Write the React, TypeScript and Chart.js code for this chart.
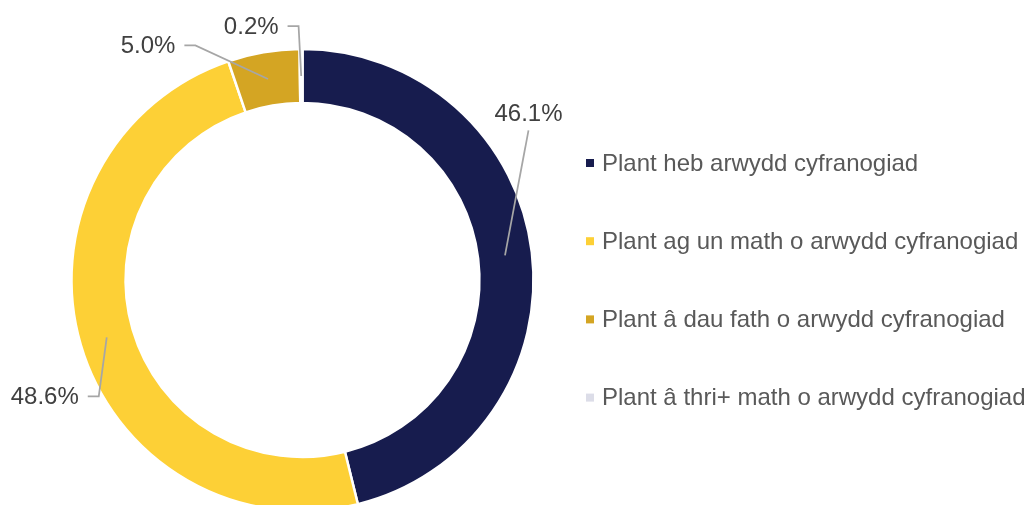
import React, { useEffect, useRef } from "react";
import { Chart, registerables } from "chart.js";

Chart.register(...registerables);

const categories = [
  "Plant heb arwydd cyfranogiad",
  "Plant ag un math o arwydd cyfranogiad",
  "Plant â dau fath o arwydd cyfranogiad",
  "Plant â thri+ math o arwydd cyfranogiad",
];
const values = [46.1, 48.6, 5.0, 0.2];
const valueLabels = ["46.1%", "48.6%", "5.0%", "0.2%"];
const colors = ["#171c4e", "#fdd036", "#d4a523", "#dcdde8"];

// label placement relative to the slice's mid-ring anchor: [dx, dy, leader style]
const labelPlacement: [number, number, string][] = [
  [23.5, -142, "below"],
  [-62, 59, "left"],
  [-120, -33.5, "left"],
  [-50, -50, "left"],
];

const FONT = "'Liberation Sans', Arial, sans-serif";
const W = 1027;
const H = 560;

const labelPlugin = {
  id: "labelPlugin",
  afterDatasetsDraw(chart: any) {
    const ctx = chart.ctx;
    const meta = chart.getDatasetMeta(0);
    ctx.save();
    ctx.font = `24px ${FONT}`;
    ctx.textAlign = "center";
    ctx.textBaseline = "middle";
    meta.data.forEach((arc: any, i: number) => {
      const p = arc.getProps(["x", "y", "startAngle", "endAngle", "innerRadius", "outerRadius"], true);
      const mid = (p.startAngle + p.endAngle) / 2;
      const r = (p.innerRadius + p.outerRadius) / 2;
      const ax = p.x + Math.cos(mid) * r;
      const ay = p.y + Math.sin(mid) * r;
      const [dx, dy, style] = labelPlacement[i];
      const lx = ax + dx;
      const ly = ay + dy;
      const text = valueLabels[i];
      const tw = ctx.measureText(text).width;
      ctx.strokeStyle = "#a6a6a6";
      ctx.lineWidth = 1.75;
      ctx.beginPath();
      if (style === "below") {
        ctx.moveTo(ax, ay);
        ctx.lineTo(lx, ly + 17);
      } else {
        const right = lx + tw / 2;
        ctx.moveTo(ax, ay);
        ctx.lineTo(right + 20, ly);
        ctx.lineTo(right + 9, ly);
      }
      ctx.stroke();
      ctx.fillStyle = "#404040";
      ctx.fillText(text, lx, ly + 1);
    });
    ctx.restore();
  },
};

const legendPlugin = {
  id: "customLegend",
  afterDraw(chart: any) {
    const ctx = chart.ctx;
    ctx.save();
    ctx.font = `24px ${FONT}`;
    ctx.textAlign = "left";
    ctx.textBaseline = "middle";
    const ds = chart.data.datasets[0];
    chart.data.labels.forEach((lab: string, i: number) => {
      const cy = 163 + i * 78.2;
      ctx.fillStyle = ds.backgroundColor[i];
      ctx.fillRect(586, cy - 4, 8, 8);
      ctx.fillStyle = "#595959";
      ctx.fillText(lab, 602, cy + 1);
    });
    ctx.restore();
  },
};

export default function App() {
  const ref = useRef<HTMLCanvasElement>(null);
  useEffect(() => {
    if (!ref.current) return;
    const chart = new Chart(ref.current, {
      type: "doughnut",
      data: {
        labels: categories,
        datasets: [
          {
            data: values,
            backgroundColor: colors,
            borderColor: "#ffffff",
            borderWidth: 2.5,
          },
        ],
      },
      options: {
        responsive: false,
        animation: false,
        radius: 231,
        cutout: "76.6%",
        layout: { padding: { left: 72, right: 494, top: 50, bottom: 50 } },
        plugins: {
          legend: { display: false },
          tooltip: { enabled: false },
        },
      } as any,
      plugins: [labelPlugin, legendPlugin],
    });
    return () => chart.destroy();
  }, []);
  return (
    <div
      style={{
        position: "fixed",
        left: 0,
        top: 0,
        width: W,
        height: 505,
        overflow: "hidden",
        background: "#ffffff",
      }}
    >
      <canvas ref={ref} width={W} height={H} style={{ width: W, height: H, display: "block" }} />
    </div>
  );
}
